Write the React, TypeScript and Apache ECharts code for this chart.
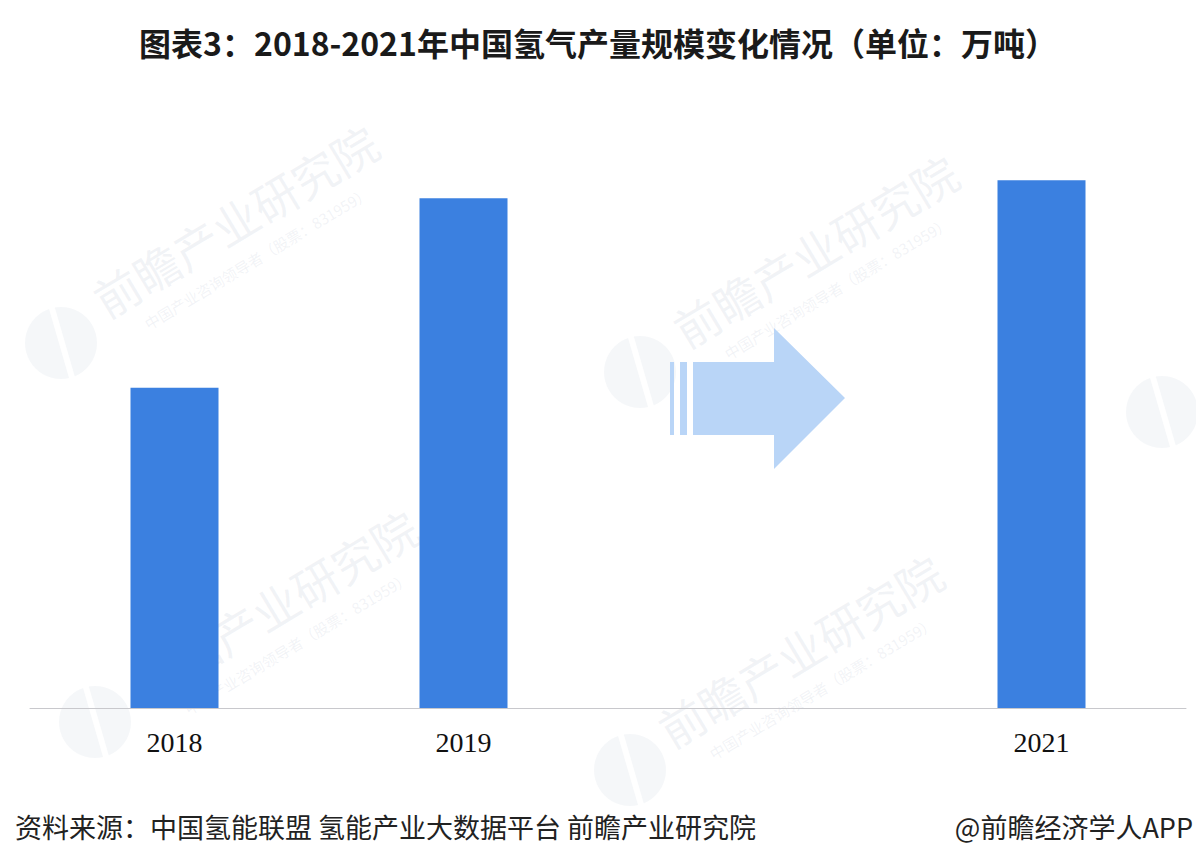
import React, { useEffect, useRef } from "react";
import * as echarts from "echarts";

const TITLE = "图表3：2018-2021年中国氢气产量规模变化情况（单位：万吨）";
const SOURCE = "资料来源：中国氢能联盟 氢能产业大数据平台 前瞻产业研究院";
const CREDIT = "@前瞻经济学人APP";
const categories = ["2018", "2019", "", "2021"];
const production = [2100, 3342, null, 3460];
const WM_TEXT = "前瞻产业研究院";
const WM_SUB = "中国产业咨询领导者（股票：831959）";

const BAR_COLOR = "#3b80e0";
const ARROW_COLOR = "#b9d5f7";

function watermark(cx: number, cy: number, lx: number, ly: number, withText = true) {
  const rot = (31 * Math.PI) / 180;
  const col = "rgba(170,182,200,0.16)";
  const items: any[] = [
    {
      type: "circle",
      z: 0,
      silent: true,
      shape: { cx: lx, cy: ly, r: 36 },
      style: { fill: "rgba(195,204,218,0.16)" },
    },
    {
      type: "line",
      z: 0,
      silent: true,
      shape: { x1: lx - 10, y1: ly - 38, x2: lx + 12, y2: ly + 38 },
      style: { stroke: "#ffffff", lineWidth: 6 },
    },
  ];
  if (withText) {
    items.push(
      {
        type: "text",
        z: 0,
        silent: true,
        x: cx,
        y: cy,
        rotation: rot,
        style: {
          text: WM_TEXT,
          fontSize: 46,
          fontFamily: "Noto Sans CJK SC",
          fill: col,
          align: "center",
          verticalAlign: "middle",
        },
      },
      {
        type: "text",
        z: 0,
        silent: true,
        x: cx + 22,
        y: cy + 38,
        rotation: rot,
        style: {
          text: WM_SUB,
          fontSize: 15,
          fontFamily: "Noto Sans CJK SC",
          fill: col,
          align: "center",
          verticalAlign: "middle",
        },
      }
    );
  }
  return items;
}

export default function App() {
  const ref = useRef<HTMLDivElement>(null);
  useEffect(() => {
    if (!ref.current) return;
    const chart = echarts.init(ref.current, undefined, { renderer: "svg" });
    const graphics: any[] = [
      ...watermark(235, 220, 61, 343),
      ...watermark(815, 250, 640, 372),
      ...watermark(0, 0, 1162, 412, false),
      ...watermark(275, 605, 95, 722),
      ...watermark(800, 650, 630, 770),
      {
        type: "rect",
        z: 5,
        silent: true,
        shape: { x: 670, y: 362, width: 4, height: 73 },
        style: { fill: ARROW_COLOR },
      },
      {
        type: "rect",
        z: 5,
        silent: true,
        shape: { x: 680, y: 362, width: 7, height: 73 },
        style: { fill: ARROW_COLOR },
      },
      {
        type: "polygon",
        z: 5,
        silent: true,
        shape: {
          points: [
            [693, 362],
            [774, 362],
            [774, 328],
            [845, 398],
            [774, 469],
            [774, 435],
            [693, 435],
          ],
        },
        style: { fill: ARROW_COLOR },
      },
      {
        type: "text",
        z: 10,
        left: "center",
        top: 26,
        style: {
          text: TITLE,
          fontSize: 32,
          fontWeight: "bold",
          fontFamily: "Noto Sans CJK SC",
          fill: "#1a1a1a",
        },
      },
      {
        type: "text",
        z: 10,
        x: 15,
        y: 826,
        style: {
          text: SOURCE,
          fontSize: 27,
          fontFamily: "Noto Sans CJK SC",
          fill: "#222222",
          verticalAlign: "middle",
        },
      },
      {
        type: "text",
        z: 10,
        x: 1193,
        y: 826,
        style: {
          text: CREDIT,
          fontSize: 27,
          fontFamily: "Noto Sans CJK SC",
          fill: "#222222",
          align: "right",
          verticalAlign: "middle",
        },
      },
    ];
    chart.setOption({
      animation: false,
      backgroundColor: "#ffffff",
      grid: { left: 30, width: 1156, top: 98, bottom: 158, containLabel: false },
      xAxis: {
        type: "category",
        data: categories,
        axisLine: { show: true, lineStyle: { color: "#c8c8cc", width: 1 } },
        axisTick: { show: false },
        axisLabel: {
          fontSize: 28,
          fontFamily: "Liberation Serif",
          color: "#111111",
          margin: 20,
        },
      },
      yAxis: {
        type: "value",
        min: 0,
        max: 4000,
        show: false,
        splitLine: { show: false },
      },
      series: [
        {
          type: "bar",
          data: production,
          barWidth: 88,
          z: 3,
          itemStyle: { color: BAR_COLOR },
        },
      ],
      graphic: graphics,
    });
    return () => chart.dispose();
  }, []);
  return (
    <div
      ref={ref}
      style={{ position: "fixed", left: 0, top: 0, width: 1196, height: 866, background: "#fff" }}
    />
  );
}
